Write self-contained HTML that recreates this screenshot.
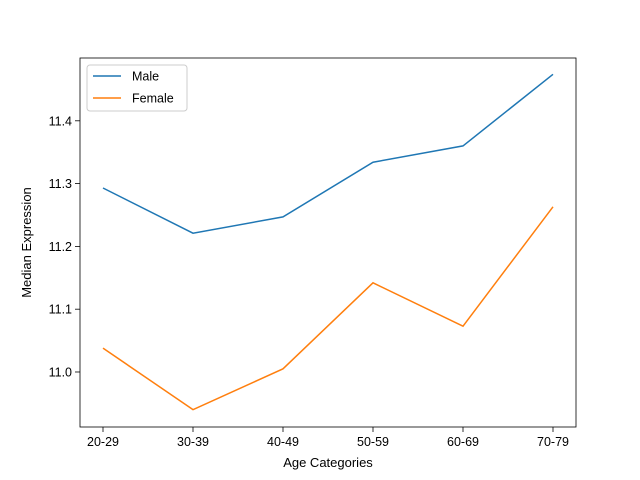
<!DOCTYPE html>
<html><head><meta charset="utf-8"><style>body{margin:0;background:#fff}svg{display:block;font-family:"Liberation Sans","DejaVu Sans",sans-serif}</style></head>
<body>
<svg id="chart" width="640" height="480">
<rect x="0" y="0" width="640" height="480" fill="#fff"/>
<g id="plot"></g>
</svg>
<script>
const categories = ["20-29","30-39","40-49","50-59","60-69","70-79"];
const maleValues = [11.293,11.221,11.247,11.334,11.360,11.474];
const femaleValues = [11.038,10.940,11.005,11.142,11.073,11.263];
const yTicks = [11.0,11.1,11.2,11.3,11.4];
const yTickLabels = ["11.0","11.1","11.2","11.3","11.4"];

const L=80,R=576,T=58,B=427;
const yMin=10.9124,yMax=11.5;
const x=i=>103+i*(553-103)/(categories.length-1);
const y=v=>B-(v-yMin)/(yMax-yMin)*(B-T);
const NS="http://www.w3.org/2000/svg";
const g=document.getElementById('plot');
function mk(tag,attrs,parent){const e=document.createElementNS(NS,tag);for(const k in attrs)e.setAttribute(k,attrs[k]);(parent||g).appendChild(e);return e;}

categories.forEach((c,i)=>{
  const t=mk('line',{x1:x(i),x2:x(i),y1:B,y2:B+5,stroke:'#000','stroke-width':0.8});
  
  
  const l=mk('text',{x:x(i),y:B+19,'text-anchor':'middle','font-size':12.5,fill:'#000'});
  l.textContent=c;
  
  
});
yTicks.forEach((v,i)=>{
  const t=mk('line',{x1:L-5,x2:L,y1:y(v),y2:y(v),stroke:'#000','stroke-width':0.8});
  
  
  const l=mk('text',{x:L-8,y:y(v)+4.5,'text-anchor':'end','font-size':12.5,fill:'#000'});
  l.textContent=yTickLabels[i];
  
  
});
function series(vals,color,name){
  const p=mk('polyline',{points:vals.map((v,i)=>x(i)+','+y(v)).join(' '),fill:'none',stroke:color,'stroke-width':1.5});
  
  
}
series(maleValues,'#1f77b4','male-line');
series(femaleValues,'#ff7f0e','female-line');

const frame=mk('rect',{x:L,y:T,width:R-L,height:B-T,fill:'none',stroke:'#000','stroke-width':0.8});



const xt=mk('text',{x:(L+R)/2,y:467,'text-anchor':'middle','font-size':13,fill:'#000'});
xt.textContent='Age Categories';


const yt=mk('text',{x:0,y:0,'text-anchor':'middle','font-size':13,fill:'#000',transform:'translate(31,'+((T+B)/2)+') rotate(-90)'});
yt.textContent='Median Expression';



const lg=mk('g',{});


mk('rect',{x:87,y:65,width:100,height:46,rx:3,fill:'#fff',stroke:'#ccc','stroke-width':1},lg);
[['Male','#1f77b4',76],['Female','#ff7f0e',98]].forEach(([n,c,yy])=>{
  const e=mk('g',{},lg);
  
  
  mk('line',{x1:93,x2:121,y1:yy,y2:yy,stroke:c,'stroke-width':1.5},e);
  const t=mk('text',{x:132,y:yy+4.5,'font-size':12.5,fill:'#000'},e);
  t.textContent=n;
});
</script>
</body></html>
